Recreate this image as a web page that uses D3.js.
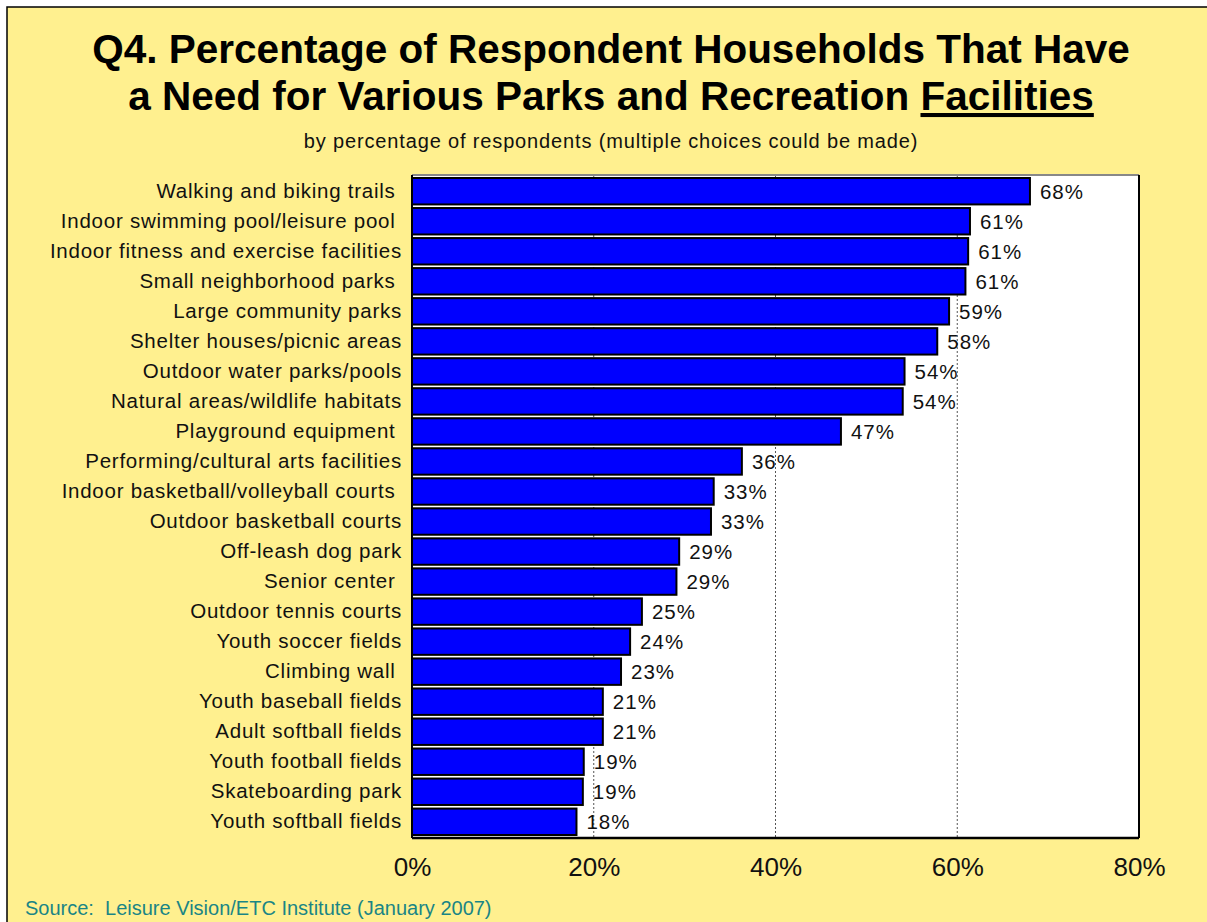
<!DOCTYPE html>
<html>
<head>
<meta charset="utf-8">
<script src="https://cdn.jsdelivr.net/npm/d3@7/dist/d3.min.js"></script>
<style>
  html, body { margin: 0; padding: 0; background: #ffffff; }
  svg { display: block; }
  text { font-family: "Liberation Sans", Arial, Helvetica, sans-serif; }
</style>
</head>
<body>
<svg id="chart" width="1207" height="922"></svg>
<script>
// Facilities households said they need, top to bottom
const categories = [
  "Walking and biking trails ",
  "Indoor swimming pool/leisure pool ",
  "Indoor fitness and exercise facilities",
  "Small neighborhood parks ",
  "Large community parks",
  "Shelter houses/picnic areas",
  "Outdoor water parks/pools",
  "Natural areas/wildlife habitats",
  "Playground equipment ",
  "Performing/cultural arts facilities",
  "Indoor basketball/volleyball courts ",
  "Outdoor basketball courts",
  "Off-leash dog park",
  "Senior center ",
  "Outdoor tennis courts",
  "Youth soccer fields",
  "Climbing wall ",
  "Youth baseball fields",
  "Adult softball fields",
  "Youth football fields",
  "Skateboarding park",
  "Youth softball fields"
];

// Share of respondent households (percent)
const percentages = [
  68.0, 61.4, 61.2, 60.9, 59.1, 57.8, 54.2, 54.0, 47.2, 36.3, 33.2,
  32.9, 29.4, 29.1, 25.3, 24.0, 23.0, 21.0, 21.0, 18.9, 18.8, 18.1
];

const xTicks = [0, 20, 40, 60, 80];
const gridTicks = [20, 40, 60];

const titleLines = [
  "Q4. Percentage of Respondent Households That Have",
  "a Need for Various Parks and Recreation "
];
const titleUnderlined = "Facilities";
const subtitle = "by percentage of respondents (multiple choices could be made)";
const sourceNote = "Source:  Leisure Vision/ETC Institute (January 2007)";

const data = categories.map((c, i) => ({ category: c, value: percentages[i] }));

const svg = d3.select("#chart");
const W = 1207, H = 922;

// page background with frame line on the top and left
svg.append("rect").attr("x", 0).attr("y", 0).attr("width", W).attr("height", H).attr("fill", "#ffffff");
svg.append("rect").attr("x", 7).attr("y", 7).attr("width", W).attr("height", H)
  .attr("fill", "#fff08f").attr("stroke", "#000").attr("stroke-width", 1.5);

// titles
const title = svg.append("text")
  .attr("text-anchor", "middle")
  .attr("font-weight", "bold")
  .attr("font-size", 40.5)
  .attr("fill", "#000");
title.append("tspan").attr("x", 611).attr("y", 63).text(titleLines[0]);
const line2 = title.append("tspan").attr("x", 611).attr("y", 110);
line2.append("tspan").text(titleLines[1]);
line2.append("tspan").attr("text-decoration", "underline").text(titleUnderlined);

svg.append("text")
  .attr("x", 611).attr("y", 148)
  .attr("text-anchor", "middle")
  .attr("font-size", 20)
  .style("letter-spacing", "0.85px")
  .attr("fill", "#111")
  .text(subtitle);

// plot area
const plot = { left: 412, right: 1139, top: 175, bottom: 838 };

const x = d3.scaleLinear().domain([0, 80]).range([plot.left, plot.right]);
const y = d3.scaleBand()
  .domain(categories)
  .range([plot.top, plot.bottom])
  .paddingInner(0.12)
  .paddingOuter(0.1);

svg.append("rect")
  .attr("x", plot.left).attr("y", plot.top)
  .attr("width", plot.right - plot.left).attr("height", plot.bottom - plot.top)
  .attr("fill", "#ffffff");

// dashed vertical gridlines
svg.append("g")
  .selectAll("line")
  .data(gridTicks)
  .join("line")
  .attr("x1", d => x(d)).attr("x2", d => x(d))
  .attr("y1", plot.top).attr("y2", plot.bottom)
  .attr("stroke", "#555")
  .attr("stroke-width", 1)
  .attr("stroke-dasharray", "2,2");

// bars
svg.append("g")
  .selectAll("rect")
  .data(data)
  .join("rect")
  .attr("x", x(0))
  .attr("y", d => y(d.category))
  .attr("width", d => x(d.value) - x(0))
  .attr("height", y.bandwidth())
  .attr("fill", "#0000ff")
  .attr("stroke", "#000")
  .attr("stroke-width", 2);

// value labels
const fmt = d => d3.format(".0f")(d) + "%";
svg.append("g")
  .selectAll("text")
  .data(data)
  .join("text")
  .attr("x", d => x(d.value) + 10)
  .attr("y", d => y(d.category) + y.bandwidth() / 2)
  .attr("dy", "0.36em")
  .attr("font-size", 20.5)
  .style("letter-spacing", "1px")
  .attr("fill", "#111")
  .text(d => fmt(d.value));

// plot frame
svg.append("line").attr("x1", plot.left).attr("x2", plot.right)
  .attr("y1", plot.top).attr("y2", plot.top).attr("stroke", "#888").attr("stroke-width", 2);
svg.append("line").attr("x1", plot.right).attr("x2", plot.right)
  .attr("y1", plot.top).attr("y2", plot.bottom).attr("stroke", "#000").attr("stroke-width", 2);
svg.append("line").attr("x1", plot.left).attr("x2", plot.right)
  .attr("y1", plot.bottom).attr("y2", plot.bottom).attr("stroke", "#000").attr("stroke-width", 2.5);
svg.append("line").attr("x1", plot.left).attr("x2", plot.left)
  .attr("y1", plot.top).attr("y2", plot.bottom).attr("stroke", "#000").attr("stroke-width", 2);

// category axis
const yAxis = svg.append("g")
  .attr("transform", `translate(${plot.left},0)`)
  .call(d3.axisLeft(y).tickSize(0).tickPadding(10));
yAxis.select(".domain").remove();
yAxis.selectAll("text")
  .attr("font-family", "Liberation Sans, Arial, sans-serif")
  .attr("font-size", 20.5)
  .attr("fill", "#111")
  .style("letter-spacing", "0.75px")
  .style("white-space", "pre");

// percentage axis
const xAxis = svg.append("g")
  .attr("transform", `translate(0,${plot.bottom})`)
  .call(d3.axisBottom(x).tickValues(xTicks).tickSize(0).tickPadding(20).tickFormat(d => d + "%"));
xAxis.select(".domain").remove();
xAxis.selectAll("text")
  .attr("font-family", "Liberation Sans, Arial, sans-serif")
  .attr("font-size", 26)
  .attr("fill", "#111");

// source note
svg.append("text")
  .attr("x", 25).attr("y", 915)
  .attr("font-family", "Liberation Serif, Times New Roman, serif")
  .attr("font-size", 20)
  .attr("fill", "#1a8585")
  .style("white-space", "pre")
  .text(sourceNote);
</script>
</body>
</html>
